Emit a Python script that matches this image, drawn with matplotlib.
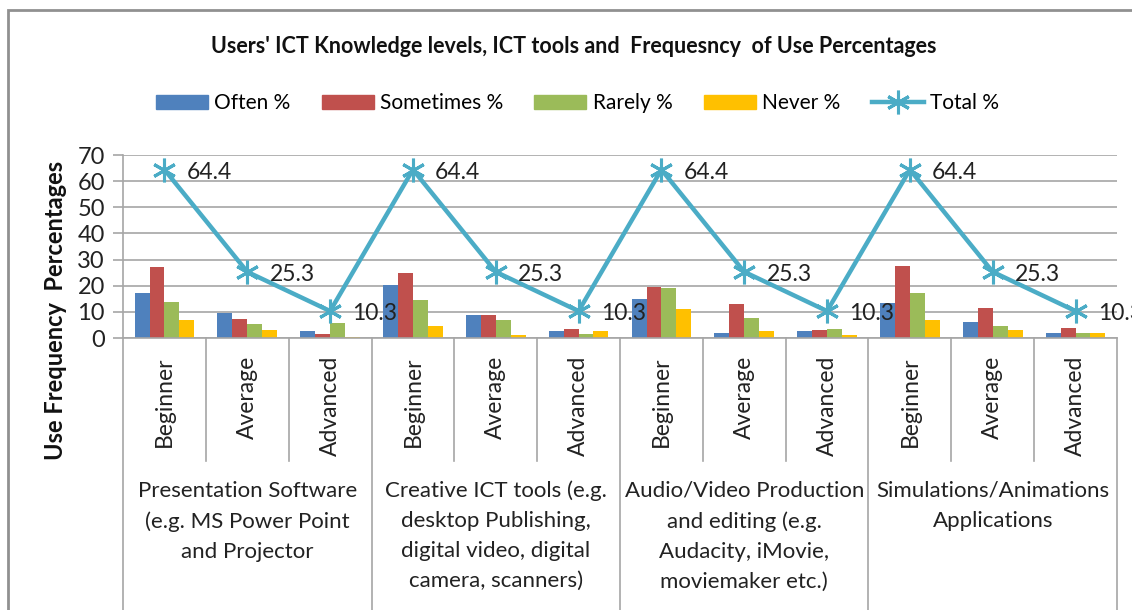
import matplotlib

matplotlib.use("Agg")
import matplotlib.pyplot as plt
from matplotlib.lines import Line2D
from matplotlib.patches import Patch, Rectangle
import numpy as np

plt.rcParams["font.family"] = ["Lato", "DejaVu Sans"]

levels = ["Beginner", "Average", "Advanced"]
groups = [
    "Presentation Software\n(e.g. MS Power Point\nand Projector",
    "Creative ICT tools (e.g.\ndesktop Publishing,\ndigital video, digital\ncamera, scanners)",
    "Audio/Video Production\nand editing (e.g.\nAudacity, iMovie,\nmoviemaker etc.)",
    "Simulations/Animations\nApplications",
]
often = [17.3, 9.7, 2.6, 20.3, 8.7, 2.6, 14.9, 2.1, 2.6, 13.5, 6.3, 2.1]
sometimes = [27.3, 7.3, 1.7, 24.7, 8.7, 3.5, 19.6, 12.9, 2.9, 27.7, 11.5, 3.8]
rarely = [13.8, 5.4, 5.9, 14.7, 6.8, 1.5, 19.1, 7.7, 3.5, 17.3, 4.4, 2.1]
never = [6.8, 2.9, 0.5, 4.4, 1.2, 2.6, 11.0, 2.6, 1.2, 6.8, 3.1, 2.1]
total = [64.4, 25.3, 10.3] * 4

series = [
    ("Often %", often, "#4F81BD"),
    ("Sometimes %", sometimes, "#C0504D"),
    ("Rarely %", rarely, "#9BBB59"),
    ("Never %", never, "#FFC000"),
]
line_color = "#4BACC6"
grid_color = "#A6A6A6"
text_color = "#222222"

fig = plt.figure(figsize=(11.32, 6.1), dpi=100)
ax = fig.add_axes([0.1087, 0.4459, 0.878, 0.30])

n = len(total)
x = np.arange(n)
w = 0.18
for j, (name, vals, color) in enumerate(series):
    ax.bar(x + (j - 1.5) * w, vals, w, color=color, zorder=2)

ax.plot(x, total, color=line_color, lw=3.2, marker=(6, 2, 0), ms=17,
        mew=2.2, zorder=3)
for xi, v in zip(x, total):
    ax.annotate(f"{v}", (xi, v), xytext=(16, -2), textcoords="offset points",
                va="center", ha="left", fontsize=16.5, color=text_color,
                annotation_clip=False, zorder=4)

ax.set_xlim(-0.5, n - 0.5)
ax.set_ylim(0, 70)
ax.set_yticks(range(0, 71, 10))
ax.yaxis.grid(True, color=grid_color, lw=1.2, zorder=0)
ax.set_axisbelow(True)
for s in ["top", "right"]:
    ax.spines[s].set_visible(False)
for s in ["left", "bottom"]:
    ax.spines[s].set_color(grid_color)
    ax.spines[s].set_linewidth(1.2)
ax.tick_params(axis="y", length=7, width=1.2, color=grid_color, pad=6,
               labelsize=17, labelcolor=text_color)

ax.set_xticks(x)
ax.set_xticklabels([levels[i % 3] for i in range(n)], rotation=90,
                   fontsize=16.5, color=text_color)
ax.tick_params(axis="x", length=0, pad=13)

# category separators and group separators below the axis
trans = ax.get_xaxis_transform()
for b in np.arange(n + 1) - 0.5:
    is_group = int(b + 0.5) % 3 == 0
    y_end = -1.77 if is_group else -0.67
    ax.plot([b, b], [0, y_end], transform=trans, color=grid_color, lw=1.2,
            clip_on=False)

for g, label in enumerate(groups):
    ax.text(3 * g + 1, -0.78, label, transform=trans, ha="center", va="top",
            fontsize=16, color=text_color, linespacing=1.62)

ax.set_ylabel("Use Frequency  Percentages", fontsize=17, fontweight="bold",
              color="#111111")
ax.yaxis.set_label_coords(-0.056, 0.15)

fig.text(0.507, 0.923,
         "Users' ICT Knowledge levels, ICT tools and  Frequesncy  of Use Percentages",
         ha="center", va="center", fontsize=15.5, fontweight="bold", color="#111111")

handles = [Patch(color=c) for _, _, c in series]
handles.append(Line2D([], [], color=line_color, lw=3.2, marker=(6, 2, 0),
                      ms=17, mew=2.2))
labels = [s[0] for s in series] + ["Total %"]
fig.legend(handles, labels, loc="center", bbox_to_anchor=(0.51, 0.831),
           ncol=5, frameon=False, fontsize=15, handlelength=2.5,
           columnspacing=1.5, handletextpad=0.3)

fig.add_artist(Rectangle((8 / 1132, -0.1), 1.2, 1 - 10 / 610 + 0.1,
                         transform=fig.transFigure, fill=False,
                         edgecolor="#909090", lw=2))

fig.savefig("out.png", dpi=100)
